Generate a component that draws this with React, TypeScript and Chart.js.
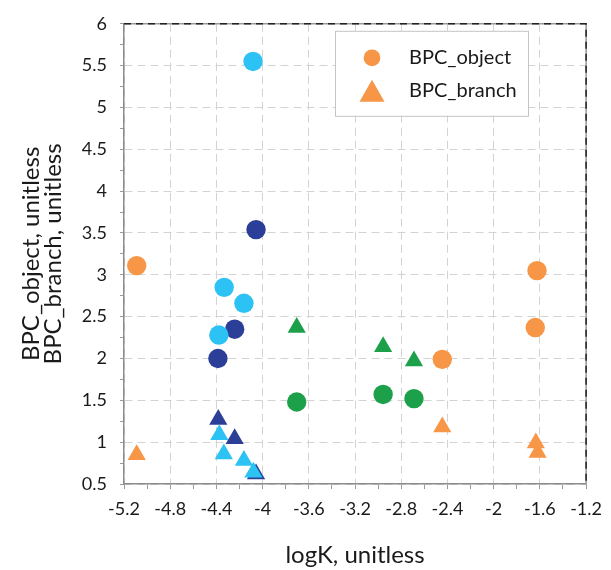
import React, { useEffect, useRef } from 'react';
import { Chart, registerables } from 'chart.js';

Chart.register(...registerables);

// ---- data ----
const lightBlueObjX = [-4.083, -4.333, -4.162, -4.379];
const lightBlueObjY = [5.55, 2.85, 2.66, 2.28];
const darkBlueObjX = [-4.057, -4.242, -4.387];
const darkBlueObjY = [3.54, 2.35, 2.0];
const greenObjX = [-3.705, -2.957, -2.69];
const greenObjY = [1.48, 1.57, 1.52];
const orangeObjX = [-5.09, -2.445, -1.625, -1.64];
const orangeObjY = [3.11, 1.99, 3.05, 2.37];

const greenBrX = [-3.705, -2.957, -2.69];
const greenBrY = [2.37, 2.14, 1.97];
const orangeBrX = [-5.09, -2.445, -1.62, -1.635];
const orangeBrY = [0.85, 1.18, 0.875, 0.99];
const lightBlueBrX = [-4.375, -4.336, -4.162, -4.08];
const lightBlueBrY = [1.09, 0.86, 0.78, 0.64];
const darkBlueBrX = [-4.384, -4.242, -4.057];
const darkBlueBrY = [1.27, 1.04, 0.62];

const X_MIN = -5.2;
const X_MAX = -1.2;
const X_STEP = 0.2;
const X_LABEL_STEP = 0.4;
const Y_MIN = 0.5;
const Y_MAX = 6;
const Y_STEP = 0.25;
const Y_LABEL_STEP = 0.5;

const legendLabels = ['BPC_object', 'BPC_branch'];

const ORANGE = '#F79646';
const LIGHT_BLUE = '#2CC3F4';
const DARK_BLUE = '#2B3E98';
const GREEN = '#1CA04A';

const FONT = 'Lato, "Open Sans", sans-serif';

const pts = (xs: number[], ys: number[]) => xs.map((x, i) => ({ x, y: ys[i] }));
const isMult = (v: number, step: number) => Math.abs(v / step - Math.round(v / step)) < 1e-6;

const frameAndLegend = {
  id: 'frameAndLegend',
  afterDraw(chart: any) {
    const { ctx, chartArea } = chart;
    const { left, right, top, bottom } = chartArea;
    ctx.save();
    // top and right dashed frame
    ctx.lineWidth = 1.5;
    ctx.strokeStyle = '#9a9a9a';
    ctx.setLineDash([]);
    ctx.beginPath();
    ctx.moveTo(left, top);
    ctx.lineTo(right, top);
    ctx.lineTo(right, bottom);
    ctx.stroke();
    ctx.strokeStyle = '#222';
    ctx.setLineDash([7, 5]);
    ctx.beginPath();
    ctx.moveTo(left, top);
    ctx.lineTo(right, top);
    ctx.lineTo(right, bottom);
    ctx.stroke();
    ctx.setLineDash([]);

    // legend
    const bx = left + 211;
    const by = top + 7;
    const bw = 193;
    const bh = 85;
    ctx.fillStyle = '#fff';
    ctx.fillRect(bx, by, bw, bh);
    ctx.strokeStyle = '#c4c4c4';
    ctx.lineWidth = 1;
    ctx.strokeRect(bx + 0.5, by + 0.5, bw, bh);
    const items = chart.data.datasets.filter((d: any) => d.legendText);
    items.forEach((d: any, i: number) => {
      const cy = by + 27 + i * 33;
      const cx = bx + 37;
      ctx.fillStyle = d.backgroundColor;
      ctx.beginPath();
      if (d.pointStyle === 'triangle') {
        ctx.moveTo(cx, cy - 11);
        ctx.lineTo(cx + 12.5, cy + 11);
        ctx.lineTo(cx - 12.5, cy + 11);
        ctx.closePath();
      } else {
        ctx.arc(cx, cy, 8.4, 0, Math.PI * 2);
      }
      ctx.fill();
      ctx.fillStyle = '#1a1a1a';
      ctx.font = `20px ${FONT}`;
      ctx.textBaseline = 'middle';
      ctx.textAlign = 'left';
      ctx.fillText(d.legendText, bx + 74, cy);
    });
    ctx.restore();
  },
};

export default function App() {
  const ref = useRef<HTMLCanvasElement | null>(null);
  useEffect(() => {
    if (!ref.current) return;
    const mk = (label: string, xs: number[], ys: number[], color: string, style: string, legendText?: string) => ({
      label,
      data: pts(xs, ys),
      backgroundColor: color,
      borderColor: color,
      borderWidth: 0,
      pointStyle: style,
      pointRadius: style === 'triangle' ? 10.5 : 9.7,
      pointHoverRadius: style === 'triangle' ? 10.5 : 9.7,
      legendText,
    });
    const chart = new Chart(ref.current, {
      type: 'scatter',
      data: {
        datasets: [
          mk('lbObj', lightBlueObjX, lightBlueObjY, LIGHT_BLUE, 'circle'),
          mk('dbObj', darkBlueObjX, darkBlueObjY, DARK_BLUE, 'circle'),
          mk('gObj', greenObjX, greenObjY, GREEN, 'circle'),
          mk('oObj', orangeObjX, orangeObjY, ORANGE, 'circle', legendLabels[0]),
          mk('gBr', greenBrX, greenBrY, GREEN, 'triangle'),
          mk('oBr', orangeBrX, orangeBrY, ORANGE, 'triangle', legendLabels[1]),
          mk('lbBr', lightBlueBrX, lightBlueBrY, LIGHT_BLUE, 'triangle'),
          mk('dbBr', darkBlueBrX, darkBlueBrY, DARK_BLUE, 'triangle'),
        ] as any,
      },
      options: {
        responsive: false,
        animation: false,
        layout: { padding: { top: 16, right: 18, bottom: 0, left: 0 } },
        plugins: { legend: { display: false }, tooltip: { enabled: false } },
        scales: {
          x: {
            type: 'linear',
            min: X_MIN,
            max: X_MAX,
            afterFit: (s: any) => { s.height = 86; },
            ticks: {
              stepSize: X_STEP,
              autoSkip: false,
              maxRotation: 0,
              padding: 9,
              color: '#1a1a1a',
              font: { family: FONT, size: 18 },
              callback: (v: any) => (isMult(Number(v), X_LABEL_STEP) ? String(Number(Number(v).toFixed(1))) : ''),
            },
            grid: {
              color: (c: any) => (c.tick && isMult(c.tick.value, X_LABEL_STEP) ? '#d3d3d3' : 'rgba(0,0,0,0)'),
              tickColor: '#9a9a9a',
              tickLength: 5,
              lineWidth: 1,
              borderDash: [8, 5],
              tickBorderDash: [],
            } as any,
            border: { color: '#8c8c8c', width: 1.5, dash: [8, 5] } as any,
            title: {
              display: true,
              text: 'logK, unitless',
              color: '#1a1a1a',
              font: { family: FONT, size: 24, lineHeight: 1.2 },
              padding: { top: 0, bottom: 0 },
            },
          },
          y: {
            type: 'linear',
            min: Y_MIN,
            max: Y_MAX,
            afterFit: (s: any) => { s.width = 124; },
            ticks: {
              stepSize: Y_STEP,
              autoSkip: false,
              padding: 13,
              color: '#1a1a1a',
              font: { family: FONT, size: 18 },
              callback: (v: any) => (isMult(Number(v), Y_LABEL_STEP) ? String(Number(Number(v).toFixed(2))) : ''),
            },
            grid: {
              color: (c: any) => (c.tick && isMult(c.tick.value, Y_LABEL_STEP) ? '#d3d3d3' : 'rgba(0,0,0,0)'),
              tickColor: '#9a9a9a',
              tickLength: 4,
              lineWidth: 1,
              borderDash: [8, 5],
              tickBorderDash: [],
            } as any,
            border: { color: '#8c8c8c', width: 1.5, dash: [8, 5] } as any,
            title: {
              display: true,
              text: ['BPC_object, unitless', 'BPC_branch, unitless'],
              color: '#1a1a1a',
              font: { family: FONT, size: 24, lineHeight: 0.92 },
              padding: { top: 20, bottom: 0 },
            },
          },
        },
      },
      plugins: [frameAndLegend],
    });
    return () => chart.destroy();
  }, []);
  return (
    <canvas
      ref={ref}
      width={611}
      height={570}
      style={{ position: 'absolute', left: 0, top: 0, display: 'block' }}
    />
  );
}
